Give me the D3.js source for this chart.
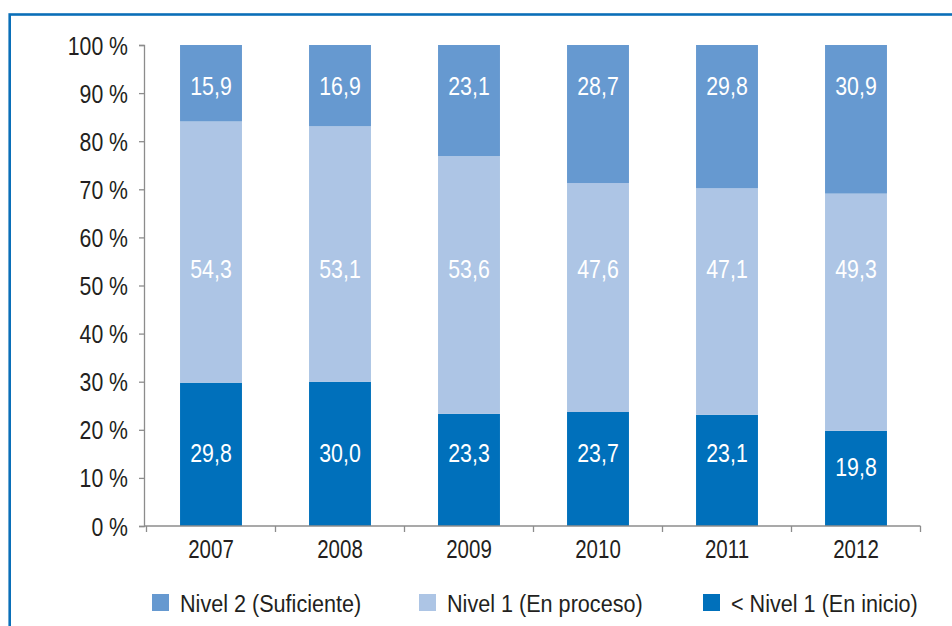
<!DOCTYPE html>
<html>
<head>
<meta charset="utf-8">
<script src="https://cdn.jsdelivr.net/npm/d3@7/dist/d3.min.js"></script>
<style>
  html, body { margin: 0; padding: 0; background: #fff; }
  svg { display: block; }
  text { font-family: "Liberation Sans", Arial, sans-serif; }
</style>
</head>
<body>
<script>
const years = ["2007", "2008", "2009", "2010", "2011", "2012"];
const seriesNames = ["< Nivel 1 (En inicio)", "Nivel 1 (En proceso)", "Nivel 2 (Suficiente)"];
const belowNivel1 = [29.8, 30.0, 23.3, 23.7, 23.1, 19.8];
const nivel1 = [54.3, 53.1, 53.6, 47.6, 47.1, 49.3];
const nivel2 = [15.9, 16.9, 23.1, 28.7, 29.8, 30.9];
const yTicks = [0, 10, 20, 30, 40, 50, 60, 70, 80, 90, 100];
const legendOrder = ["Nivel 2 (Suficiente)", "Nivel 1 (En proceso)", "< Nivel 1 (En inicio)"];

const W = 952, H = 626;
const colors = {
  "< Nivel 1 (En inicio)": "#0070bb",
  "Nivel 1 (En proceso)": "#adc5e5",
  "Nivel 2 (Suficiente)": "#6699d0"
};

const svg = d3.select("body").append("svg").attr("width", W).attr("height", H);

function narrow(sel, k) {
  sel.each(function () {
    const t = d3.select(this);
    const tx = +t.attr("x") || 0, ty = +t.attr("y") || 0;
    t.attr("x", 0).attr("y", 0)
     .attr("transform", `translate(${tx},${ty}) scale(${k},1)`);
  });
}

// frame
svg.append("rect").attr("x", 9.7).attr("y", 14.5).attr("width", 1000).attr("height", 1000)
  .attr("fill", "none").attr("stroke", "#0a6fb8").attr("stroke-width", 2.6);

const x = d3.scaleBand().domain(years).range([146.5, 920.5]).padding(0);
const y = d3.scaleLinear().domain([0, 100]).range([526, 45]);
const barW = x.bandwidth() * 0.48;

const rows = years.map((yr, i) => ({
  year: yr,
  "< Nivel 1 (En inicio)": belowNivel1[i],
  "Nivel 1 (En proceso)": nivel1[i],
  "Nivel 2 (Suficiente)": nivel2[i]
}));
const stack = d3.stack().keys(seriesNames)(rows);

const g = svg.append("g");
stack.forEach(layer => {
  g.selectAll(null).data(layer).enter().append("rect")
    .attr("x", d => x(d.data.year) + (x.bandwidth() - barW) / 2)
    .attr("width", barW)
    .attr("y", d => y(d[1]))
    .attr("height", d => y(d[0]) - y(d[1]))
    .attr("fill", colors[layer.key]);
});

// labels
const fmt = v => v.toFixed(1).replace(".", ",");
const labelValue = (key, d) => {
  if (key === "< Nivel 1 (En inicio)") return Math.min(15.2, d[1] - 7.4);
  if (key === "Nivel 1 (En proceso)") return 53.5;
  return 91.6;
};
stack.forEach(layer => {
  g.selectAll(null).data(layer).enter().append("text")
    .attr("x", d => x(d.data.year) + x.bandwidth() / 2)
    .attr("y", d => y(labelValue(layer.key, d)))
    .attr("dy", "0.36em")
    .attr("text-anchor", "middle")
    .attr("fill", "#fff")
    .attr("font-size", 26)
    .text(d => fmt(d[1] - d[0]))
    .call(narrow, 0.82);
});

// y axis
const axisColor = "#8c8c8c";
const yAxis = svg.append("g").attr("transform", "translate(144,0)")
  .call(d3.axisLeft(y).tickValues(yTicks).tickSize(5).tickPadding(11).tickFormat(d => d + " %"));
yAxis.select(".domain").attr("stroke", axisColor).attr("stroke-width", 1.3);
yAxis.selectAll(".tick line").attr("stroke", axisColor).attr("stroke-width", 1.3);
yAxis.selectAll(".tick text").attr("fill", "#231f20").attr("font-size", 25)
  .attr("font-family", "'Liberation Sans', Arial, sans-serif")
  .attr("dy", "0.36em")
  .call(narrow, 0.85);

// x axis
const xg = svg.append("g");
xg.append("line").attr("x1", 144).attr("x2", x.range()[1]).attr("y1", y(0)).attr("y2", y(0))
  .attr("stroke", axisColor).attr("stroke-width", 1.3);
const bounds = years.map(yr => x(yr)).concat([x(years[years.length - 1]) + x.bandwidth()]);
xg.selectAll(null).data(bounds).enter().append("line")
  .attr("x1", d => d).attr("x2", d => d).attr("y1", y(0)).attr("y2", y(0) + 6)
  .attr("stroke", axisColor).attr("stroke-width", 1.3);
xg.selectAll(null).data(years).enter().append("text")
  .attr("x", d => x(d) + x.bandwidth() / 2)
  .attr("y", 558)
  .attr("text-anchor", "middle")
  .attr("fill", "#231f20").attr("font-size", 25)
  .text(d => d)
  .call(narrow, 0.82);

// legend
const legendX = [152, 419, 703];
const lg = svg.append("g");
legendOrder.forEach((name, i) => {
  lg.append("rect").attr("x", legendX[i]).attr("y", 594).attr("width", 17).attr("height", 17)
    .attr("fill", colors[name]);
  lg.append("text").attr("x", legendX[i] + 28).attr("y", 603).attr("dy", "0.36em")
    .attr("fill", "#231f20").attr("font-size", 24).text(name)
    .call(narrow, 0.9);
});
</script>
</body>
</html>
